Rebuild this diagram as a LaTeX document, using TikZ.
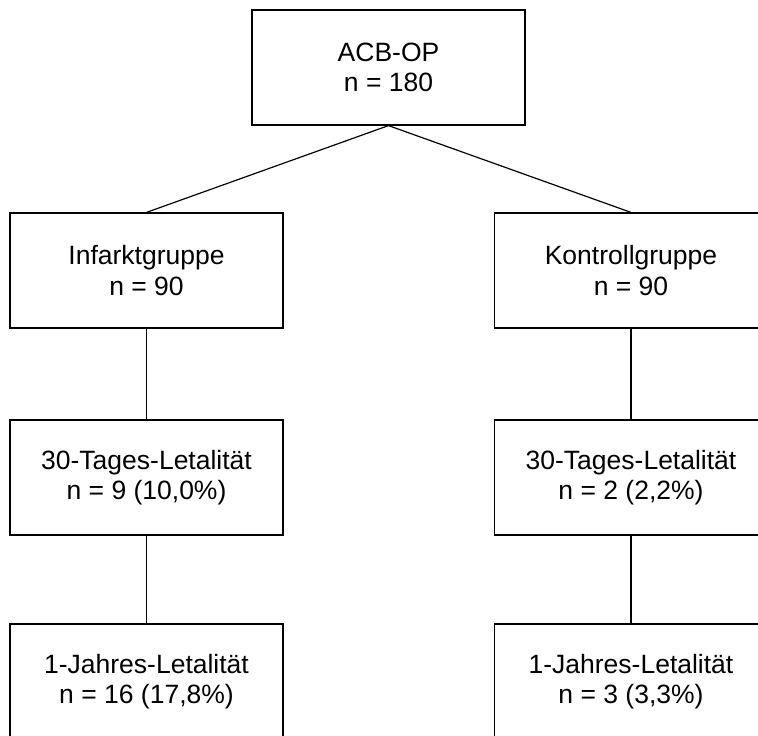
\documentclass[tikz,border=0pt]{standalone}
\usepackage{fontspec}
\setmainfont{Liberation Sans}
\usepackage{tikz}

\begin{document}
\begin{tikzpicture}[x=1pt,y=1pt,line width=1.2pt]
      \tikzstyle{box}=[rectangle,draw=black,fill=white,align=center,minimum width=273pt,minimum height=115pt,inner sep=0pt,font=\fontsize{26.5}{30.5}\selectfont]
      \useasboundingbox (0,0) rectangle (758,-736);
      %\draw[red] (0,0) rectangle (758,-736);
      \node[box] (acb) at (388.5,-67.5) {ACB-OP\\n = 180};
      \node[box] (infarkt) at (146.5,-270.5) {Infarktgruppe\\n = 90};
      \node[box] (kontroll) at (631,-270.5) {Kontrollgruppe\\n = 90};
      \node[box] (tage1) at (146.5,-477.5) {30-Tages-Letalität\\n = 9 (10,0\%)};
      \node[box] (tage2) at (631,-477.5) {30-Tages-Letalität\\n = 2 (2,2\%)};
      \node[box] (jahr1) at (146.5,-681.5) {1-Jahres-Letalität\\n = 16 (17,8\%)};
      \node[box] (jahr2) at (631,-681.5) {1-Jahres-Letalität\\n = 3 (3,3\%)};
      \draw (acb.south) -- (infarkt.north);
      \draw (acb.south) -- (kontroll.north);
      \draw (infarkt) -- (tage1);
      \draw (kontroll) -- (tage2);
      \draw (tage1) -- (jahr1);
      \draw (tage2) -- (jahr2);
\end{tikzpicture}
\end{document}
